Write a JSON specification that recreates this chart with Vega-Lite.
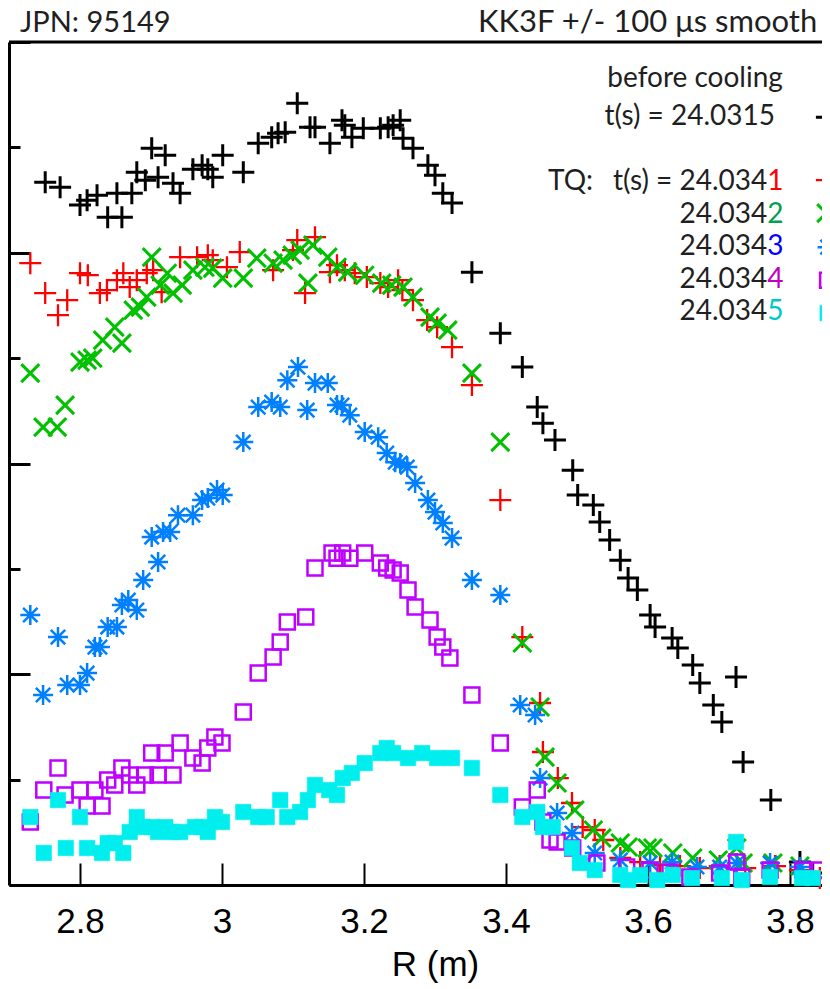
{
  "$schema": "https://vega.github.io/schema/vega-lite/v6.json",
  "width": 813,
  "height": 843,
  "autosize": {"type": "none"},
  "padding": {"left": 9, "top": 42, "right": 0, "bottom": 104},
  "background": "white",
  "config": {"view": {"stroke": null}},
  "data": {"values": [{}]},
  "datasets": {
    "pts": [
      {"s":"b","R":2.751,"T":6.670},{"s":"b","R":2.772,"T":6.622},{"s":"b","R":2.800,"T":6.452},{"s":"b","R":2.810,"T":6.499},{"s":"b","R":2.824,"T":6.546},{"s":"b","R":2.839,"T":6.338},{"s":"b","R":2.852,"T":6.565},{"s":"b","R":2.859,"T":6.338},{"s":"b","R":2.873,"T":6.565},{"s":"b","R":2.880,"T":6.765},{"s":"b","R":2.892,"T":6.689},{"s":"b","R":2.901,"T":6.992},{"s":"b","R":2.910,"T":6.717},{"s":"b","R":2.920,"T":6.926},{"s":"b","R":2.931,"T":6.660},{"s":"b","R":2.941,"T":6.565},{"s":"b","R":2.959,"T":6.793},{"s":"b","R":2.972,"T":6.831},{"s":"b","R":2.980,"T":6.793},{"s":"b","R":2.987,"T":6.717},{"s":"b","R":3.001,"T":6.926},{"s":"b","R":3.030,"T":6.765},{"s":"b","R":3.051,"T":7.040},{"s":"b","R":3.070,"T":7.097},{"s":"b","R":3.079,"T":7.135},{"s":"b","R":3.089,"T":7.144},{"s":"b","R":3.106,"T":7.419},{"s":"b","R":3.124,"T":7.192},{"s":"b","R":3.131,"T":7.192},{"s":"b","R":3.152,"T":7.040},{"s":"b","R":3.169,"T":7.258},{"s":"b","R":3.173,"T":7.211},{"s":"b","R":3.183,"T":7.097},{"s":"b","R":3.199,"T":7.182},{"s":"b","R":3.223,"T":7.182},{"s":"b","R":3.234,"T":7.192},{"s":"b","R":3.241,"T":7.211},{"s":"b","R":3.251,"T":7.258},{"s":"b","R":3.255,"T":7.087},{"s":"b","R":3.269,"T":6.992},{"s":"b","R":3.290,"T":6.831},{"s":"b","R":3.300,"T":6.736},{"s":"b","R":3.311,"T":6.565},{"s":"b","R":3.324,"T":6.471},{"s":"b","R":3.352,"T":5.816},{"s":"b","R":3.392,"T":5.237},{"s":"b","R":3.423,"T":4.915},{"s":"b","R":3.444,"T":4.535},{"s":"b","R":3.452,"T":4.383},{"s":"b","R":3.469,"T":4.222},{"s":"b","R":3.494,"T":3.937},{"s":"b","R":3.501,"T":3.700},{"s":"b","R":3.523,"T":3.605},{"s":"b","R":3.532,"T":3.444},{"s":"b","R":3.546,"T":3.273},{"s":"b","R":3.561,"T":3.083},{"s":"b","R":3.572,"T":2.913},{"s":"b","R":3.585,"T":2.799},{"s":"b","R":3.603,"T":2.562},{"s":"b","R":3.610,"T":2.448},{"s":"b","R":3.634,"T":2.343},{"s":"b","R":3.642,"T":2.249},{"s":"b","R":3.663,"T":2.087},{"s":"b","R":3.673,"T":1.917},{"s":"b","R":3.692,"T":1.708},{"s":"b","R":3.704,"T":1.546},{"s":"b","R":3.724,"T":1.973},{"s":"b","R":3.734,"T":1.167},{"s":"b","R":3.773,"T":0.806},{"s":"b","R":3.814,"T":0.218},{"s":"b","R":3.832,"T":0.114},
      {"s":"1","R":2.730,"T":5.901},{"s":"1","R":2.751,"T":5.617},{"s":"1","R":2.769,"T":5.408},{"s":"1","R":2.782,"T":5.550},{"s":"1","R":2.800,"T":5.806},{"s":"1","R":2.811,"T":5.787},{"s":"1","R":2.828,"T":5.617},{"s":"1","R":2.838,"T":5.645},{"s":"1","R":2.852,"T":5.740},{"s":"1","R":2.861,"T":5.806},{"s":"1","R":2.870,"T":5.674},{"s":"1","R":2.880,"T":5.740},{"s":"1","R":2.894,"T":5.806},{"s":"1","R":2.903,"T":5.835},{"s":"1","R":2.915,"T":5.626},{"s":"1","R":2.941,"T":5.958},{"s":"1","R":2.965,"T":5.958},{"s":"1","R":2.980,"T":5.977},{"s":"1","R":2.987,"T":5.930},{"s":"1","R":3.007,"T":5.863},{"s":"1","R":3.025,"T":6.006},{"s":"1","R":3.072,"T":5.835},{"s":"1","R":3.100,"T":6.025},{"s":"1","R":3.106,"T":6.120},{"s":"1","R":3.131,"T":6.148},{"s":"1","R":3.117,"T":5.617},{"s":"1","R":3.152,"T":5.816},{"s":"1","R":3.162,"T":5.882},{"s":"1","R":3.173,"T":5.835},{"s":"1","R":3.187,"T":5.806},{"s":"1","R":3.204,"T":5.769},{"s":"1","R":3.223,"T":5.712},{"s":"1","R":3.234,"T":5.674},{"s":"1","R":3.248,"T":5.740},{"s":"1","R":3.254,"T":5.645},{"s":"1","R":3.269,"T":5.550},{"s":"1","R":3.289,"T":5.361},{"s":"1","R":3.303,"T":5.294},{"s":"1","R":3.324,"T":5.104},{"s":"1","R":3.352,"T":4.744},{"s":"1","R":3.392,"T":3.653},{"s":"1","R":3.423,"T":2.353},{"s":"1","R":3.448,"T":1.727},{"s":"1","R":3.452,"T":1.262},{"s":"1","R":3.473,"T":1.015},{"s":"1","R":3.493,"T":0.778},{"s":"1","R":3.508,"T":0.550},{"s":"1","R":3.525,"T":0.522},{"s":"1","R":3.537,"T":0.427},{"s":"1","R":3.561,"T":0.256},{"s":"1","R":3.589,"T":0.218},{"s":"1","R":3.617,"T":0.190},{"s":"1","R":3.645,"T":0.180},{"s":"1","R":3.673,"T":0.161},{"s":"1","R":3.701,"T":0.180},{"s":"1","R":3.737,"T":0.161},{"s":"1","R":3.779,"T":0.180},{"s":"1","R":3.814,"T":0.142},{"s":"1","R":3.842,"T":0.066},
      {"s":"2","R":2.730,"T":4.858},{"s":"2","R":2.748,"T":4.345},{"s":"2","R":2.768,"T":4.345},{"s":"2","R":2.779,"T":4.554},{"s":"2","R":2.800,"T":4.962},{"s":"2","R":2.810,"T":4.981},{"s":"2","R":2.818,"T":5.000},{"s":"2","R":2.832,"T":5.171},{"s":"2","R":2.849,"T":5.294},{"s":"2","R":2.859,"T":5.142},{"s":"2","R":2.875,"T":5.455},{"s":"2","R":2.885,"T":5.484},{"s":"2","R":2.894,"T":5.579},{"s":"2","R":2.901,"T":5.958},{"s":"2","R":2.913,"T":5.693},{"s":"2","R":2.923,"T":5.806},{"s":"2","R":2.931,"T":5.617},{"s":"2","R":2.944,"T":5.693},{"s":"2","R":2.959,"T":5.835},{"s":"2","R":2.976,"T":5.863},{"s":"2","R":2.987,"T":5.854},{"s":"2","R":3.001,"T":5.759},{"s":"2","R":3.030,"T":5.759},{"s":"2","R":3.049,"T":5.949},{"s":"2","R":3.072,"T":5.901},{"s":"2","R":3.086,"T":5.930},{"s":"2","R":3.099,"T":5.977},{"s":"2","R":3.110,"T":6.025},{"s":"2","R":3.128,"T":6.072},{"s":"2","R":3.121,"T":5.712},{"s":"2","R":3.149,"T":5.958},{"s":"2","R":3.162,"T":5.863},{"s":"2","R":3.177,"T":5.816},{"s":"2","R":3.201,"T":5.787},{"s":"2","R":3.225,"T":5.712},{"s":"2","R":3.239,"T":5.693},{"s":"2","R":3.255,"T":5.674},{"s":"2","R":3.269,"T":5.579},{"s":"2","R":3.293,"T":5.389},{"s":"2","R":3.303,"T":5.332},{"s":"2","R":3.318,"T":5.266},{"s":"2","R":3.352,"T":4.858},{"s":"2","R":3.392,"T":4.203},{"s":"2","R":3.423,"T":2.296},{"s":"2","R":3.448,"T":1.689},{"s":"2","R":3.455,"T":1.214},{"s":"2","R":3.472,"T":0.968},{"s":"2","R":3.497,"T":0.712},{"s":"2","R":3.523,"T":0.522},{"s":"2","R":3.535,"T":0.446},{"s":"2","R":3.561,"T":0.398},{"s":"2","R":3.572,"T":0.361},{"s":"2","R":3.599,"T":0.351},{"s":"2","R":3.607,"T":0.351},{"s":"2","R":3.635,"T":0.304},{"s":"2","R":3.663,"T":0.256},{"s":"2","R":3.699,"T":0.237},{"s":"2","R":3.725,"T":0.351},{"s":"2","R":3.734,"T":0.209},{"s":"2","R":3.776,"T":0.209},{"s":"2","R":3.814,"T":0.180},
      {"s":"3","R":2.730,"T":2.562},{"s":"3","R":2.748,"T":1.803},{"s":"3","R":2.769,"T":2.353},{"s":"3","R":2.782,"T":1.898},{"s":"3","R":2.800,"T":1.898},{"s":"3","R":2.810,"T":2.011},{"s":"3","R":2.821,"T":2.258},{"s":"3","R":2.828,"T":2.258},{"s":"3","R":2.839,"T":2.448},{"s":"3","R":2.852,"T":2.448},{"s":"3","R":2.859,"T":2.657},{"s":"3","R":2.868,"T":2.704},{"s":"3","R":2.880,"T":2.609},{"s":"3","R":2.889,"T":2.894},{"s":"3","R":2.901,"T":3.302},{"s":"3","R":2.910,"T":3.065},{"s":"3","R":2.917,"T":3.349},{"s":"3","R":2.927,"T":3.349},{"s":"3","R":2.938,"T":3.510},{"s":"3","R":2.959,"T":3.510},{"s":"3","R":2.972,"T":3.653},{"s":"3","R":2.980,"T":3.672},{"s":"3","R":2.993,"T":3.748},{"s":"3","R":3.001,"T":3.700},{"s":"3","R":3.030,"T":4.203},{"s":"3","R":3.051,"T":4.535},{"s":"3","R":3.070,"T":4.583},{"s":"3","R":3.082,"T":4.535},{"s":"3","R":3.092,"T":4.791},{"s":"3","R":3.107,"T":4.915},{"s":"3","R":3.120,"T":4.507},{"s":"3","R":3.131,"T":4.763},{"s":"3","R":3.149,"T":4.763},{"s":"3","R":3.162,"T":4.554},{"s":"3","R":3.169,"T":4.554},{"s":"3","R":3.180,"T":4.459},{"s":"3","R":3.201,"T":4.298},{"s":"3","R":3.220,"T":4.250},{"s":"3","R":3.232,"T":4.099},{"s":"3","R":3.244,"T":4.013},{"s":"3","R":3.251,"T":4.004},{"s":"3","R":3.261,"T":3.966},{"s":"3","R":3.272,"T":3.814},{"s":"3","R":3.290,"T":3.653},{"s":"3","R":3.300,"T":3.539},{"s":"3","R":3.311,"T":3.435},{"s":"3","R":3.324,"T":3.292},{"s":"3","R":3.352,"T":2.894},{"s":"3","R":3.392,"T":2.751},{"s":"3","R":3.420,"T":1.708},{"s":"3","R":3.441,"T":1.613},{"s":"3","R":3.448,"T":1.015},{"s":"3","R":3.472,"T":0.683},{"s":"3","R":3.493,"T":0.493},{"s":"3","R":3.525,"T":0.304},{"s":"3","R":3.561,"T":0.237},{"s":"3","R":3.603,"T":0.209},{"s":"3","R":3.634,"T":0.218},{"s":"3","R":3.669,"T":0.171},{"s":"3","R":3.701,"T":0.171},{"s":"3","R":3.725,"T":0.209},{"s":"3","R":3.772,"T":0.209},{"s":"3","R":3.814,"T":0.171},
      {"s":"4","R":2.730,"T":0.598},{"s":"4","R":2.749,"T":0.901},{"s":"4","R":2.769,"T":1.110},{"s":"4","R":2.779,"T":0.854},{"s":"4","R":2.800,"T":0.901},{"s":"4","R":2.810,"T":0.750},{"s":"4","R":2.821,"T":0.901},{"s":"4","R":2.831,"T":0.750},{"s":"4","R":2.839,"T":0.996},{"s":"4","R":2.849,"T":0.949},{"s":"4","R":2.859,"T":1.110},{"s":"4","R":2.870,"T":1.044},{"s":"4","R":2.880,"T":0.949},{"s":"4","R":2.892,"T":1.044},{"s":"4","R":2.901,"T":1.252},{"s":"4","R":2.910,"T":1.044},{"s":"4","R":2.920,"T":1.252},{"s":"4","R":2.931,"T":1.044},{"s":"4","R":2.941,"T":1.347},{"s":"4","R":2.959,"T":1.205},{"s":"4","R":2.972,"T":1.157},{"s":"4","R":2.980,"T":1.300},{"s":"4","R":2.990,"T":1.404},{"s":"4","R":3.000,"T":1.347},{"s":"4","R":3.030,"T":1.641},{"s":"4","R":3.051,"T":2.011},{"s":"4","R":3.072,"T":2.163},{"s":"4","R":3.082,"T":2.305},{"s":"4","R":3.092,"T":2.495},{"s":"4","R":3.118,"T":2.543},{"s":"4","R":3.131,"T":3.008},{"s":"4","R":3.155,"T":3.150},{"s":"4","R":3.162,"T":3.102},{"s":"4","R":3.170,"T":3.150},{"s":"4","R":3.180,"T":3.102},{"s":"4","R":3.201,"T":3.150},{"s":"4","R":3.223,"T":3.055},{"s":"4","R":3.232,"T":3.008},{"s":"4","R":3.241,"T":2.989},{"s":"4","R":3.251,"T":2.960},{"s":"4","R":3.262,"T":2.799},{"s":"4","R":3.272,"T":2.638},{"s":"4","R":3.293,"T":2.514},{"s":"4","R":3.303,"T":2.353},{"s":"4","R":3.311,"T":2.258},{"s":"4","R":3.321,"T":2.154},{"s":"4","R":3.352,"T":1.803},{"s":"4","R":3.392,"T":1.347},{"s":"4","R":3.423,"T":0.740},{"s":"4","R":3.444,"T":0.901},{"s":"4","R":3.452,"T":0.598},{"s":"4","R":3.462,"T":0.427},{"s":"4","R":3.472,"T":0.408},{"s":"4","R":3.494,"T":0.351},{"s":"4","R":3.528,"T":0.209},{"s":"4","R":3.570,"T":0.171},{"s":"4","R":3.603,"T":0.142},{"s":"4","R":3.631,"T":0.123},{"s":"4","R":3.659,"T":0.076},{"s":"4","R":3.701,"T":0.114},{"s":"4","R":3.725,"T":0.218},{"s":"4","R":3.732,"T":0.076},{"s":"4","R":3.772,"T":0.142},{"s":"4","R":3.818,"T":0.142},{"s":"4","R":3.842,"T":0.142},
      {"s":"5","R":2.730,"T":0.645},{"s":"5","R":2.749,"T":0.304},{"s":"5","R":2.769,"T":0.806},{"s":"5","R":2.780,"T":0.351},{"s":"5","R":2.800,"T":0.645},{"s":"5","R":2.810,"T":0.351},{"s":"5","R":2.831,"T":0.304},{"s":"5","R":2.839,"T":0.398},{"s":"5","R":2.849,"T":0.398},{"s":"5","R":2.861,"T":0.304},{"s":"5","R":2.870,"T":0.503},{"s":"5","R":2.880,"T":0.645},{"s":"5","R":2.889,"T":0.550},{"s":"5","R":2.901,"T":0.550},{"s":"5","R":2.910,"T":0.503},{"s":"5","R":2.920,"T":0.550},{"s":"5","R":2.931,"T":0.503},{"s":"5","R":2.941,"T":0.503},{"s":"5","R":2.962,"T":0.550},{"s":"5","R":2.972,"T":0.550},{"s":"5","R":2.980,"T":0.503},{"s":"5","R":2.990,"T":0.645},{"s":"5","R":3.000,"T":0.598},{"s":"5","R":3.030,"T":0.693},{"s":"5","R":3.051,"T":0.645},{"s":"5","R":3.063,"T":0.645},{"s":"5","R":3.082,"T":0.806},{"s":"5","R":3.092,"T":0.645},{"s":"5","R":3.110,"T":0.693},{"s":"5","R":3.121,"T":0.806},{"s":"5","R":3.131,"T":0.949},{"s":"5","R":3.151,"T":0.901},{"s":"5","R":3.162,"T":0.854},{"s":"5","R":3.170,"T":1.015},{"s":"5","R":3.183,"T":1.063},{"s":"5","R":3.201,"T":1.157},{"s":"5","R":3.223,"T":1.252},{"s":"5","R":3.232,"T":1.300},{"s":"5","R":3.241,"T":1.252},{"s":"5","R":3.262,"T":1.205},{"s":"5","R":3.282,"T":1.252},{"s":"5","R":3.303,"T":1.205},{"s":"5","R":3.324,"T":1.205},{"s":"5","R":3.352,"T":1.110},{"s":"5","R":3.392,"T":0.854},{"s":"5","R":3.423,"T":0.645},{"s":"5","R":3.444,"T":0.693},{"s":"5","R":3.452,"T":0.550},{"s":"5","R":3.466,"T":0.550},{"s":"5","R":3.493,"T":0.351},{"s":"5","R":3.504,"T":0.209},{"s":"5","R":3.525,"T":0.142},{"s":"5","R":3.561,"T":0.095},{"s":"5","R":3.572,"T":0.047},{"s":"5","R":3.589,"T":0.095},{"s":"5","R":3.613,"T":0.047},{"s":"5","R":3.635,"T":0.095},{"s":"5","R":3.662,"T":0.066},{"s":"5","R":3.704,"T":0.066},{"s":"5","R":3.724,"T":0.408},{"s":"5","R":3.732,"T":0.047},{"s":"5","R":3.772,"T":0.076},{"s":"5","R":3.817,"T":0.066},{"s":"5","R":3.832,"T":0.066}
    ],
    "leg": [
      {"s":"b","R":3.852,"T":7.287},{"s":"1","R":3.852,"T":6.689},{"s":"2","R":3.851,"T":6.376},{"s":"3","R":3.853,"T":6.053},{"s":"4","R":3.853,"T":5.740},{"s":"5","R":3.853,"T":5.427}
    ]
  },
  "encoding": {
    "x": {"type": "quantitative", "scale": {"domain": [2.7, 3.8451], "nice": false, "zero": false},
      "axis": {"values": [2.8, 3, 3.2, 3.4, 3.6, 3.8], "format": "~g", "title": "R (m)", "grid": false,
        "labelFont": "Liberation Sans", "labelFontSize": 35, "labelColor": "#000", "labelPadding": 69, "labelBaseline": "alphabetic",
        "tickSize": -22, "tickWidth": 2, "tickColor": "#000", "domainColor": "#000", "domainWidth": 3,
        "titleFont": "Liberation Sans", "titleFontSize": 35, "titleFontWeight": "normal", "titleColor": "#000",
        "titleX": 426, "titleY": 90, "titleAlign": "center", "titleBaseline": "alphabetic"}},
    "y": {"type": "quantitative", "scale": {"domain": [0, 8], "nice": false, "zero": false},
      "axis": {"values": [0, 1, 2, 3, 4, 5, 6, 7, 8], "labels": false, "title": null, "grid": false,
        "tickSize": {"condition": {"test": "datum.value % 2 === 0", "value": -21}, "value": -11},
        "tickWidth": 3, "tickColor": "#000", "domainColor": "#000", "domainWidth": 3}}
  },
  "layer": [
    {"mark": {"type": "rule", "color": "#000", "strokeWidth": 3}, "encoding": {"y": {"datum": 8}}},
    {
      "data": {"name": "pts"},
      "mark": {"type": "point", "opacity": 1},
      "encoding": {
        "x": {"field": "R", "type": "quantitative"},
        "y": {"field": "T", "type": "quantitative"},
        "shape": {"field": "s", "type": "nominal", "legend": null, "scale": {"domain": ["b","1","2","3","4","5"], "range": ["M-1,0L1,0M0,-1L0,1", "M-1,0L1,0M0,-1L0,1", "M-1,-1L1,1M-1,1L1,-1", "M-1,0L1,0M0,-1L0,1M-0.72,-0.72L0.72,0.72M-0.72,0.72L0.72,-0.72", "square", "square"]}},
        "stroke": {"field": "s", "type": "nominal", "legend": null, "scale": {"domain": ["b","1","2","3","4","5"], "range": ["#000000", "#ff0000", "#00c000", "#0080ff", "#c000ff", "#00eeee"]}},
        "fill": {"field": "s", "type": "nominal", "legend": null, "scale": {"domain": ["b","1","2","3","4","5"], "range": ["transparent", "transparent", "transparent", "transparent", "transparent", "#00eeee"]}},
        "size": {"field": "s", "type": "nominal", "legend": null, "scale": {"type": "ordinal", "domain": ["b","1","2","3","4","5"], "range": [484, 484, 324, 400, 225, 240]}},
        "strokeWidth": {"field": "s", "type": "nominal", "legend": null, "scale": {"type": "ordinal", "domain": ["b","1","2","3","4","5"], "range": [3, 2.3, 3, 2.5, 2.5, 0.5]}}
      }
    },
    {
      "data": {"name": "leg"},
      "mark": {"type": "point", "opacity": 1},
      "encoding": {
        "x": {"field": "R", "type": "quantitative"},
        "y": {"field": "T", "type": "quantitative"},
        "shape": {"field": "s", "type": "nominal", "legend": null, "scale": {"domain": ["b","1","2","3","4","5"], "range": ["M-1,0L1,0M0,-1L0,1", "M-1,0L1,0M0,-1L0,1", "M-1,-1L1,1M-1,1L1,-1", "M-1,0L1,0M0,-1L0,1M-0.72,-0.72L0.72,0.72M-0.72,0.72L0.72,-0.72", "square", "square"]}},
        "stroke": {"field": "s", "type": "nominal", "legend": null, "scale": {"domain": ["b","1","2","3","4","5"], "range": ["#000000", "#ff0000", "#00c000", "#0080ff", "#c000ff", "#00eeee"]}},
        "fill": {"field": "s", "type": "nominal", "legend": null, "scale": {"domain": ["b","1","2","3","4","5"], "range": ["transparent", "transparent", "transparent", "transparent", "transparent", "#00eeee"]}},
        "size": {"field": "s", "type": "nominal", "legend": null, "scale": {"type": "ordinal", "domain": ["b","1","2","3","4","5"], "range": [484, 484, 324, 400, 225, 240]}},
        "strokeWidth": {"field": "s", "type": "nominal", "legend": null, "scale": {"type": "ordinal", "domain": ["b","1","2","3","4","5"], "range": [3, 2.3, 3, 2.5, 2.5, 0.5]}}
      }
    },
    {"mark": {"type": "text", "font": "Lato", "fontSize": 29, "color": "#1f1f1f", "align": "left", "baseline": "alphabetic"}, "encoding": {"x": {"datum": 2.7155}, "y": {"datum": 8.093}, "text": {"value": "JPN: 95149"}}},
    {"mark": {"type": "text", "font": "Lato", "fontSize": 31, "color": "#1f1f1f", "align": "left", "baseline": "alphabetic"}, "encoding": {"x": {"datum": 3.3606}, "y": {"datum": 8.093}, "text": {"value": "KK3F +/- 100 μs smooth"}}},
    {"mark": {"type": "text", "font": "Lato", "fontSize": 28, "color": "#1f1f1f", "align": "right", "baseline": "alphabetic"}, "encoding": {"x": {"datum": 3.790}, "y": {"datum": 7.571}, "text": {"value": "before cooling"}}},
    {"mark": {"type": "text", "font": "Lato", "fontSize": 28, "color": "#1f1f1f", "align": "right", "baseline": "alphabetic"}, "encoding": {"x": {"datum": 3.7789}, "y": {"datum": 7.211}, "text": {"value": "t(s) = 24.0315"}}},
    {"mark": {"type": "text", "font": "Lato", "fontSize": 28, "color": "#1f1f1f", "align": "left", "baseline": "alphabetic"}, "encoding": {"x": {"datum": 3.4592}, "y": {"datum": 6.594}, "text": {"value": "TQ:"}}},
    {"mark": {"type": "text", "font": "Lato", "fontSize": 28, "color": "#1f1f1f", "align": "right", "baseline": "alphabetic"}, "encoding": {"x": {"datum": 3.768}, "y": {"datum": 6.594}, "text": {"value": "t(s) = 24.034"}}},
    {"mark": {"type": "text", "font": "Lato", "fontSize": 28, "color": "#1f1f1f", "align": "right", "baseline": "alphabetic"}, "encoding": {"x": {"datum": 3.768}, "y": {"datum": 6.281}, "text": {"value": "24.034"}}},
    {"mark": {"type": "text", "font": "Lato", "fontSize": 28, "color": "#1f1f1f", "align": "right", "baseline": "alphabetic"}, "encoding": {"x": {"datum": 3.768}, "y": {"datum": 5.977}, "text": {"value": "24.034"}}},
    {"mark": {"type": "text", "font": "Lato", "fontSize": 28, "color": "#1f1f1f", "align": "right", "baseline": "alphabetic"}, "encoding": {"x": {"datum": 3.768}, "y": {"datum": 5.664}, "text": {"value": "24.034"}}},
    {"mark": {"type": "text", "font": "Lato", "fontSize": 28, "color": "#1f1f1f", "align": "right", "baseline": "alphabetic"}, "encoding": {"x": {"datum": 3.768}, "y": {"datum": 5.361}, "text": {"value": "24.034"}}},
    {"mark": {"type": "text", "font": "Lato", "fontSize": 28, "color": "#ff0000", "align": "left", "baseline": "alphabetic"}, "encoding": {"x": {"datum": 3.768}, "y": {"datum": 6.594}, "text": {"value": "1"}}},
    {"mark": {"type": "text", "font": "Lato", "fontSize": 28, "color": "#00a050", "align": "left", "baseline": "alphabetic"}, "encoding": {"x": {"datum": 3.768}, "y": {"datum": 6.281}, "text": {"value": "2"}}},
    {"mark": {"type": "text", "font": "Lato", "fontSize": 28, "color": "#0000ff", "align": "left", "baseline": "alphabetic"}, "encoding": {"x": {"datum": 3.768}, "y": {"datum": 5.977}, "text": {"value": "3"}}},
    {"mark": {"type": "text", "font": "Lato", "fontSize": 28, "color": "#c000c0", "align": "left", "baseline": "alphabetic"}, "encoding": {"x": {"datum": 3.768}, "y": {"datum": 5.664}, "text": {"value": "4"}}},
    {"mark": {"type": "text", "font": "Lato", "fontSize": 28, "color": "#00c8c8", "align": "left", "baseline": "alphabetic"}, "encoding": {"x": {"datum": 3.768}, "y": {"datum": 5.361}, "text": {"value": "5"}}}
  ]
}
